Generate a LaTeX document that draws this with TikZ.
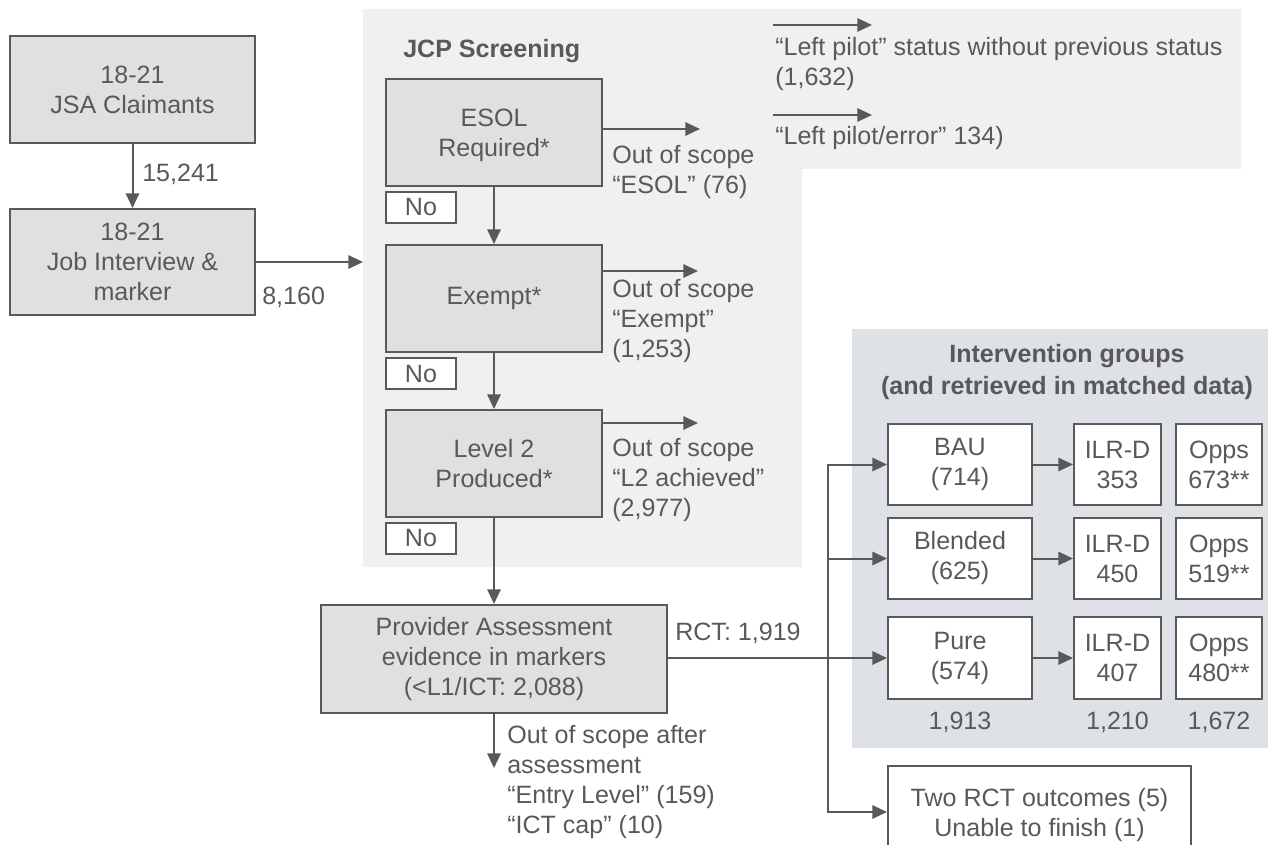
\documentclass[tikz,border=0pt]{standalone}
\usepackage{fontspec}
\setmainfont{Liberation Sans}
\usetikzlibrary{arrows.meta}
\definecolor{txt}{HTML}{595959}
\definecolor{boxfill}{HTML}{E0E0E0}
\definecolor{jcpbg}{HTML}{EFF0F2}
\definecolor{intbg}{HTML}{DEE1E5}
\tikzset{
  gbox/.style={draw=txt, fill=boxfill, line width=1.5pt, align=center, text=txt, inner sep=0pt},
  wbox/.style={draw=txt, fill=white, line width=1.5pt, align=center, text=txt, inner sep=0pt},
  lbl/.style={text=txt, align=left, inner sep=0pt},
  ttl/.style={text=txt, align=center, inner sep=0pt, font=\fontsize{18.8}{23.3}\selectfont\bfseries},
  conn/.style={draw=txt, line width=1.5pt, -{Triangle[length=11pt,width=10pt]}},
  plainline/.style={draw=txt, line width=1.5pt},
}
\begin{document}
\begin{tikzpicture}[x=0.75pt,y=-0.75pt, every node/.append style={font=\fontsize{18.8}{22.5}\selectfont}]
\useasboundingbox (0,0) rectangle (1268,845);
% background panels
\fill[jcpbg] (363,9) -- (1241,9) -- (1241,169) -- (802,169) -- (802,567) -- (363,567) -- cycle;
\fill[intbg] (852,329) rectangle (1268,748);

% left boxes
\node[gbox, minimum width=245*0.75pt, minimum height=107*0.75pt] (jsa) at (132.5,89.5) {18-21\\JSA Claimants};
\node[gbox, minimum width=245*0.75pt, minimum height=106*0.75pt] (job) at (132.5,262) {18-21\\Job Interview \&\\marker};
\draw[conn] (jsa) -- (job);
\node[lbl, anchor=west] (n15) at (142,174) {15,241};
\coordinate (jcpin) at (363,262);
\draw[conn] (job.east) -- (jcpin);
\node[lbl, anchor=west] (n8) at (262,297) {8,160};

% JCP screening
\node[ttl, anchor=west] (jcpt) at (403,51) {JCP Screening};
\node[gbox, minimum width=216*0.75pt, minimum height=107*0.75pt, text depth=0pt] (esol) at (494,132.5) {ESOL\\Required*};
\node[gbox, minimum width=216*0.75pt, minimum height=107*0.75pt] (exempt) at (494,298.5) {Exempt*};
\node[gbox, minimum width=216*0.75pt, minimum height=107*0.75pt] (ltwo) at (494,463.5) {Level 2\\Produced*};
\node[wbox, minimum width=70*0.75pt, minimum height=31*0.75pt] (no1) at (421,207.5) {No};
\node[wbox, minimum width=70*0.75pt, minimum height=31*0.75pt] (no2) at (421,373.5) {No};
\node[wbox, minimum width=70*0.75pt, minimum height=31*0.75pt] (no3) at (421,538) {No};
\draw[conn] (esol) -- (exempt);
\draw[conn] (exempt) -- (ltwo);

% out of scope arrows
\coordinate (esolout) at (700,129);
\coordinate (exout) at (698,271);
\coordinate (ltwoout) at (698,423);
\draw[conn] (esol.east |- esolout) -- (esolout);
\draw[conn] (exempt.east |- exout) -- (exout);
\draw[conn] (ltwo.east |- ltwoout) -- (ltwoout);
\node[lbl, anchor=west] (oesol) at (612,172) {Out of scope\\“ESOL” (76)};
\node[lbl, anchor=west] (oex) at (612,321) {Out of scope\\“Exempt”\\(1,253)};
\node[lbl, anchor=west] (oltwo) at (612,480) {Out of scope\\“L2 achieved”\\(2,977)};

% left pilot
\coordinate (lpa) at (773,25);
\coordinate (lpb) at (872,25);
\coordinate (lpc) at (773,115);
\coordinate (lpd) at (872,115);
\draw[conn] (lpa) -- (lpb);
\draw[conn] (lpc) -- (lpd);
\node[lbl, anchor=west] (lp1) at (775,64) {“Left pilot” status without previous status\\(1,632)};
\node[lbl, anchor=west] (lp2) at (775,138) {“Left pilot/error” 134)};

% provider assessment
\node[gbox, minimum width=346*0.75pt, minimum height=108*0.75pt] (prov) at (494,659) {Provider Assessment\\evidence in markers\\(<L1/ICT: 2,088)};
\draw[conn] (ltwo) -- (prov);
\coordinate (provout) at (494,768);
\draw[conn] (prov.south) -- (provout);
\node[lbl, anchor=west] (oprov) at (507,782) {Out of scope after\\assessment\\“Entry Level” (159)\\“ICT cap” (10)};
\node[lbl, anchor=west] (rct) at (675,633) {RCT: 1,919};

% intervention groups
\node[ttl] (intt) at (1067,372) {Intervention groups\\(and retrieved in matched data)};
\node[wbox, minimum width=144*0.75pt, minimum height=81*0.75pt] (bau) at (960,464.5) {BAU\\(714)};
\node[wbox, minimum width=87*0.75pt, minimum height=81*0.75pt] (ilr1) at (1117.5,464.5) {ILR-D\\353};
\node[wbox, minimum width=86*0.75pt, minimum height=81*0.75pt] (opp1) at (1219,464.5) {Opps\\673**};
\node[wbox, minimum width=144*0.75pt, minimum height=81*0.75pt] (blend) at (960,558.5) {Blended\\(625)};
\node[wbox, minimum width=87*0.75pt, minimum height=81*0.75pt] (ilr2) at (1117.5,558.5) {ILR-D\\450};
\node[wbox, minimum width=86*0.75pt, minimum height=81*0.75pt] (opp2) at (1219,558.5) {Opps\\519**};
\node[wbox, minimum width=144*0.75pt, minimum height=82*0.75pt] (pure) at (960,658) {Pure\\(574)};
\node[wbox, minimum width=87*0.75pt, minimum height=82*0.75pt] (ilr3) at (1117.5,658) {ILR-D\\407};
\node[wbox, minimum width=86*0.75pt, minimum height=82*0.75pt] (opp3) at (1219,658) {Opps\\480**};
\node[lbl] (tot1) at (960,722) {1,913};
\node[lbl] (tot2) at (1117.5,722) {1,210};
\node[lbl] (tot3) at (1219,722) {1,672};
\draw[conn] (bau) -- (ilr1);
\draw[conn] (blend) -- (ilr2);
\draw[conn] (pure) -- (ilr3);

% two RCT box
\node[wbox, minimum width=303*0.75pt, minimum height=92*0.75pt] (two) at (1039.5,812) {};
\node[lbl, align=center] (twotxt) at (1039.5,815) {Two RCT outcomes (5)\\Unable to finish (1)};

% RCT split
\coordinate (split) at (828,658);
\draw[conn] (prov.east |- pure.west) -- (pure.west);
\draw[conn] (split) |- (bau.west);
\draw[conn] (split) |- (blend.west);
\draw[conn] (split) |- (two.west);
\end{tikzpicture}
\end{document}
